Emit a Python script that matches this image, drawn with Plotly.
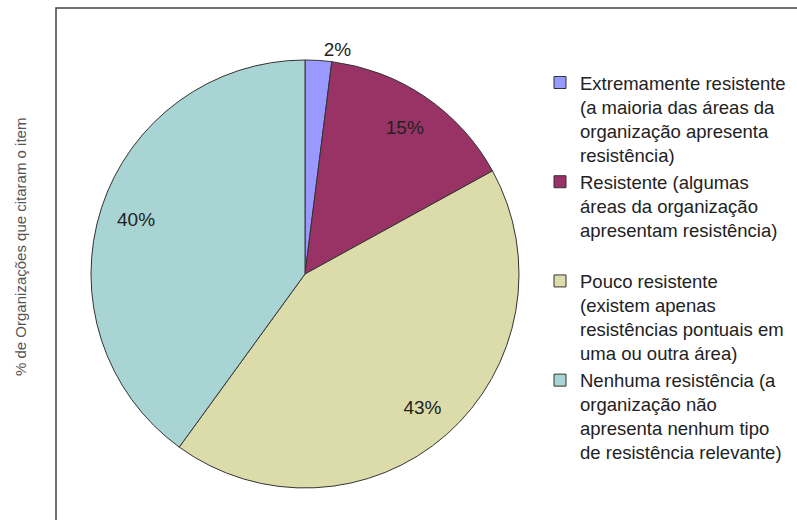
import plotly.graph_objects as go

# ---- data ----
labels = [
    "Extremamente resistente<br>(a maioria das áreas da<br>organização apresenta<br>resistência)",
    "Resistente (algumas<br>áreas da organização<br>apresentam resistência)<br> ",
    "Pouco resistente<br>(existem apenas<br>resistências pontuais em<br>uma ou outra área)",
    "Nenhuma resistência (a<br>organização não<br>apresenta nenhum tipo<br>de resistência relevante)",
]
values = [2, 15, 43, 40]
colors = ["#9999FF", "#993366", "#DCDCAA", "#A8D4D4"]
axis_title = "% de Organizações que citaram o item"

W, H = 797, 520
cx, cy, r = 305, 274, 214  # pie centre / radius in pixels (from top-left)
dom_x = [(cx - r) / W, (cx + r) / W]
dom_y = [1 - (cy + r) / H, 1 - (cy - r) / H]

FONT = "Liberation Sans, Arial, sans-serif"

fig = go.Figure()

# main pie (slices, legend, outside label for the small slice)
fig.add_trace(go.Pie(
    labels=labels,
    values=values,
    sort=False,
    direction="clockwise",
    rotation=0,
    marker=dict(colors=colors, line=dict(color="#333333", width=1)),
    texttemplate="%{value}%",
    textposition=["outside", "none", "none", "none"],
    outsidetextfont=dict(family=FONT, size=19, color="#222222"),
    domain=dict(x=dom_x, y=dom_y),
    hoverinfo="skip",
    showlegend=True,
))

# transparent ring overlay used only to place the inside labels further out
fig.add_trace(go.Pie(
    labels=["a", "b", "c", "d"],
    values=values,
    sort=False,
    direction="clockwise",
    rotation=0,
    hole=0.66,
    marker=dict(colors=["rgba(0,0,0,0)"] * 4, line=dict(width=0)),
    texttemplate="%{value}%",
    textposition=["none", "inside", "inside", "inside"],
    insidetextorientation="horizontal",
    insidetextfont=dict(family=FONT, size=19, color="#222222"),
    domain=dict(x=dom_x, y=dom_y),
    hoverinfo="skip",
    showlegend=False,
))

fig.update_layout(
    width=W, height=H,
    margin=dict(l=0, r=0, t=0, b=0),
    paper_bgcolor="white",
    plot_bgcolor="white",
    font=dict(family=FONT, color="#222222"),
    legend=dict(
        x=540 / W, y=1 - 64 / H, xanchor="left", yanchor="top",
        font=dict(family=FONT, size=18.5, color="#222222"),
        valign="top",
        bgcolor="rgba(0,0,0,0)",
        traceorder="normal",
    ),
    shapes=[dict(
        type="rect", xref="paper", yref="paper",
        x0=56 / W, y0=-0.2, x1=1.2, y1=1 - 8 / H,
        line=dict(color="#444444", width=1.5),
        fillcolor="rgba(0,0,0,0)", layer="below",
    )],
    annotations=[dict(
        text=axis_title, textangle=-90,
        xref="paper", yref="paper", x=20 / W, y=1 - 247 / H,
        showarrow=False, xanchor="center", yanchor="middle",
        font=dict(family=FONT, size=15, color="#555555"),
    )],
)

fig.write_html("out.html")
